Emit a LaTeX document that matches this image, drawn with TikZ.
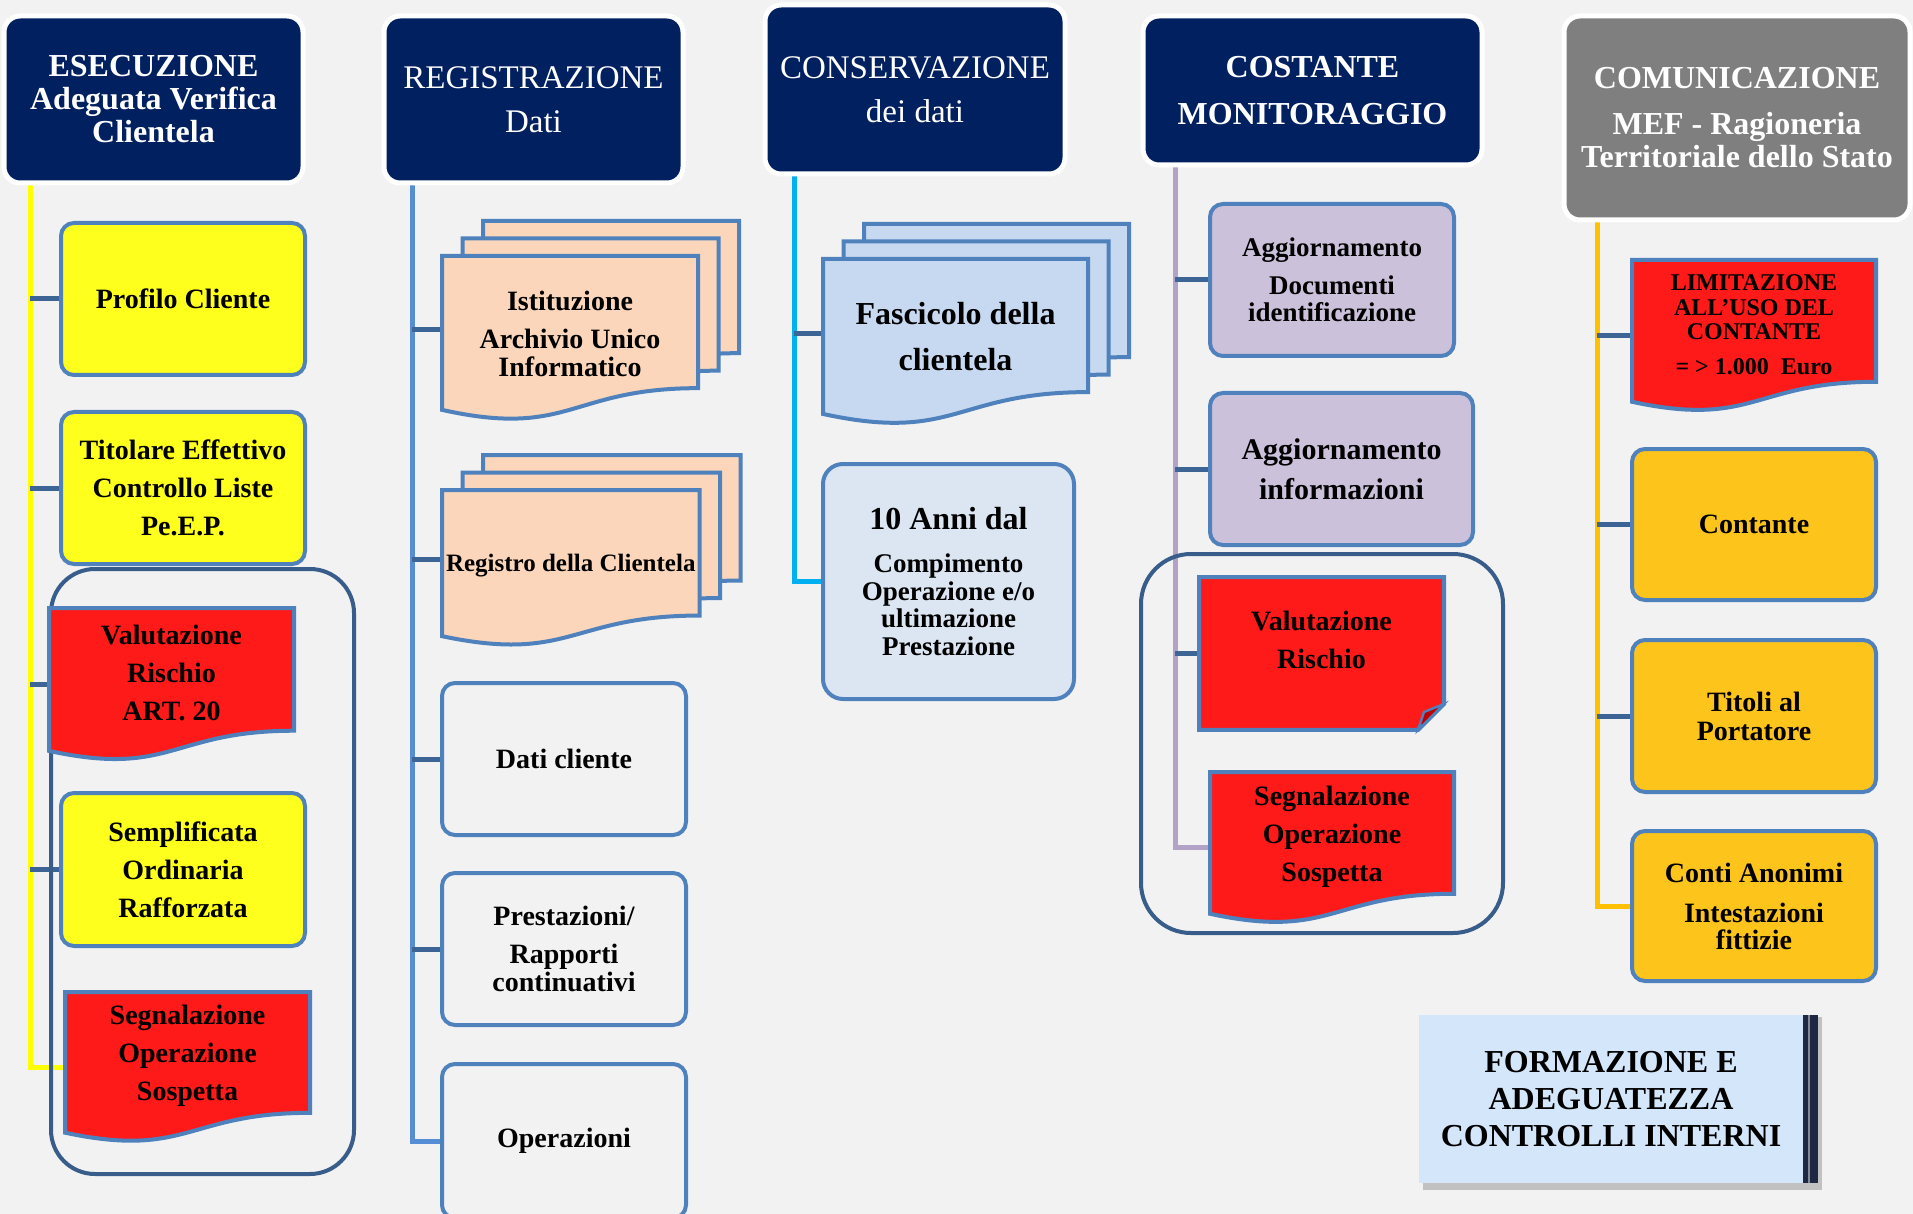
\documentclass[tikz,border=0pt]{standalone}
\usepackage{fontspec}
\setmainfont{Liberation Serif}
\usetikzlibrary{calc, positioning}

\definecolor{paper}{RGB}{242,242,242}
\definecolor{headnavy}{RGB}{0,32,96}
\definecolor{headgrey}{RGB}{127,127,127}
\definecolor{edgeblue}{RGB}{79,129,189}
\definecolor{branchblue}{RGB}{60,100,148}
\definecolor{groupblue}{RGB}{56,93,138}
\definecolor{cellyellow}{RGB}{255,255,30}
\definecolor{cellred}{RGB}{255,26,26}
\definecolor{foldred}{RGB}{192,0,0}
\definecolor{cellpeach}{RGB}{251,214,186}
\definecolor{cellsky}{RGB}{198,217,241}
\definecolor{cellpale}{RGB}{220,230,242}
\definecolor{celllilac}{RGB}{204,193,218}
\definecolor{cellgold}{RGB}{253,196,28}
\definecolor{trunkyellow}{RGB}{255,255,0}
\definecolor{trunkblue}{RGB}{85,142,213}
\definecolor{trunkcyan}{RGB}{0,176,240}
\definecolor{trunklilac}{RGB}{179,162,199}
\definecolor{trunkgold}{RGB}{255,192,0}
\definecolor{formsky}{RGB}{212,230,250}
\definecolor{formbar}{RGB}{30,40,66}

\newcommand{\headbf}{\fontsize{16}{16.5}\selectfont\bfseries}
\newcommand{\headrm}{\fontsize{16.5}{22}\selectfont}
\newcommand{\cellbf}{\fontsize{14}{19}\selectfont\bfseries}
\newcommand{\celltight}{\fontsize{14}{14}\selectfont\bfseries}
\newcommand{\padtop}{\rule{0pt}{18pt}}

\pgfdeclarelayer{back}
\pgfdeclarelayer{sheets}
\pgfsetlayers{back,sheets,main}

\tikzset{
    headbox/.style={
        rectangle,
        rounded corners=8pt,
        draw=white,
        line width=2.5pt,
        outer sep=0pt,
        fill=headnavy,
        text=white,
        anchor=north west,
        align=center
    },
    cellbox/.style={
        rectangle,
        rounded corners=6.5pt,
        draw=edgeblue,
        line width=2pt,
        outer sep=0pt,
        anchor=north west,
        minimum width=122pt,
        minimum height=76pt,
        inner sep=2pt,
        align=center,
        font=\cellbf
    },
    sheettext/.style={
        rectangle,
        anchor=north west,
        outer sep=0pt,
        minimum width=122pt,
        inner sep=2pt,
        align=center,
        font=\cellbf
    },
    sheetline/.style={draw=edgeblue, line width=2pt},
    groupframe/.style={draw=groupblue, line width=2pt, rounded corners=22pt},
    branch/.style={draw=branchblue, line width=2.5pt},
    trunk/.style={line width=2.5pt},
    formbox/.style={
        rectangle,
        fill=formsky,
        outer sep=0pt,
        anchor=north west,
        minimum width=192pt,
        minimum height=84pt,
        align=center,
        font=\fontsize{16}{18.5}\selectfont\bfseries
    }
}

% sheet with a wavy bottom, round a text node
\newcommand{\docsheet}[2]{%
    \path[sheetline, fill=#2] (#1.north west) -- (#1.north east)
        -- ($(#1.north east)!0.944!(#1.south east)$)
        .. controls ($(#1.north)!0.944!(#1.south)$) and ($(#1.north)!1.303!(#1.south)$)
        .. ($(#1.north west)!1.099!(#1.south west)$) -- cycle;
    \coordinate (#1 w) at ($(#1.north west)!0.588!(#1.south west)$);}
% three sheets stacked
\newcommand{\docstack}[2]{%
    \begin{scope}[transform canvas={shift={(41,-35)}}]\docsheet{#1}{#2}\end{scope}
    \begin{scope}[transform canvas={shift={(20.5,-17.5)}}]\docsheet{#1}{#2}\end{scope}
    \docsheet{#1}{#2}
    \coordinate (#1 w) at ($(#1 w)+(0,-8.75)$);}
% sheet with a folded corner, text kept in its upper part
\newcommand{\foldsheet}[2]{%
    \coordinate (#1 sw) at ($(#1.north west)!1.214!(#1.south west)$);
    \coordinate (#1 se) at ($(#1.north east)!1.214!(#1.south east)$);
    \path[sheetline, fill=#2] (#1.north west) -- (#1.north east)
        -- ([yshift=13pt]#1 se) -- ([xshift=-13pt]#1 se)
        -- (#1 sw) -- cycle;
    \path[sheetline, fill=foldred, line width=1.2pt] ([yshift=13pt]#1 se)
        -- ([xshift=-13pt]#1 se) -- ([xshift=-10pt,yshift=9pt]#1 se) -- cycle;
    \coordinate (#1 w) at ($(#1.north west)!0.607!(#1.south west)$);}

\begin{document}
\begin{tikzpicture}[x=0.5pt, y=-0.5pt]
    \useasboundingbox (0,0) rectangle (1913,1214);

    \node[headbox, minimum width=149.5pt, minimum height=83.5pt, font=\headbf] (esec) at (4,16) {ESECUZIONE\\Adeguata Verifica\\Clientela};
    \node[headbox, minimum width=149.5pt, minimum height=83.5pt, font=\headrm] (regis) at (384,16) {REGISTRAZIONE\\Dati};
    \node[headbox, minimum width=150pt, minimum height=84.5pt, font=\headrm] (conse) at (765,5) {CONSERVAZIONE\\dei dati};
    \node[headbox, minimum width=169.5pt, minimum height=74.5pt, font=\fontsize{16}{23.5}\selectfont\bfseries] (monit) at (1143,16) {COSTANTE\\MONITORAGGIO};
    \node[headbox, fill=headgrey, minimum width=173pt, minimum height=102pt, font=\headbf] (comun) at (1564,16) {COMUNICAZIONE\\[6.5pt]MEF - Ragioneria\\Territoriale dello Stato};

    % esecuzione
    \node[cellbox, fill=cellyellow] (profilo) at (61,223) {Profilo Cliente};
    \node[cellbox, fill=cellyellow, below=18.5pt of profilo] (titolare) {Titolare Effettivo\\Controllo Liste\\Pe.E.P.};
    \node[sheettext, minimum width=122.5pt, minimum height=65pt] (valut1) at (49,608) {Valutazione\\Rischio\\ART. 20};
    \node[cellbox, fill=cellyellow, minimum height=76.5pt] (sempl) at (61,793) {Semplificata\\Ordinaria\\Rafforzata};
    \node[sheettext, minimum width=122.5pt, minimum height=64pt] (segn1) at (65,992) {Segnalazione\\Operazione\\Sospetta};

    % registrazione
    \node[sheettext, minimum width=128pt, minimum height=70pt, font=\celltight] (istit) at (442,256) {\padtop Istituzione\\[5pt]Archivio Unico\\Informatico};
    \node[sheettext, minimum width=128.5pt, minimum height=66.5pt, font=\fontsize{12.5}{14}\selectfont\bfseries] (registro) at (442,490) {\padtop Registro della Clientela};
    \node[cellbox, fill=paper] (dati) at (442,683) {Dati cliente};
    \node[cellbox, fill=paper, below=19pt of dati, font=\celltight] (prestaz) {Prestazioni/\\[5pt]Rapporti\\continuativi};
    \node[cellbox, fill=paper, minimum height=77pt, below=19.5pt of prestaz] (operaz) {Operazioni};

    % conservazione
    \node[sheettext, minimum width=132.5pt, minimum height=70.5pt, font=\fontsize{16}{23}\selectfont\bfseries] (fasc) at (823,259) {\padtop Fascicolo della\\clientela};
    \node[cellbox, fill=cellpale, rounded corners=10pt, minimum width=125.5pt, minimum height=117.5pt, font=\fontsize{13.5}{13.75}\selectfont\bfseries] (anni) at (823,464) {{\fontsize{16}{16}\selectfont 10 Anni dal}\\[8pt]Compimento\\Operazione e/o\\ultimazione\\Prestazione};

    % monitoraggio
    \node[cellbox, fill=celllilac, font=\fontsize{13.5}{13.5}\selectfont\bfseries] (agg1) at (1210,204) {Aggiornamento\\[5.5pt]Documenti\\identificazione};
    \node[cellbox, fill=celllilac, minimum width=131.5pt, font=\fontsize{15}{20}\selectfont\bfseries] (agg2) at (1210,393) {Aggiornamento\\informazioni};
    \node[sheettext, minimum width=122.5pt, minimum height=63pt] (valut4) at (1199,577) {Valutazione\\Rischio};
    \node[sheettext, minimum height=64.5pt] (segn4) at (1210,772) {Segnalazione\\Operazione\\Sospetta};

    % comunicazione
    \node[sheettext, minimum height=64.5pt, font=\fontsize{12}{12.25}\selectfont\bfseries] (limit) at (1632,260) {LIMITAZIONE\\ALL’USO DEL\\CONTANTE\\[5pt]= > 1.000\ \ Euro};
    \node[cellbox, fill=cellgold, minimum height=75.5pt] (contante) at (1632,449) {Contante};
    \node[cellbox, fill=cellgold, below=20pt of contante, font=\fontsize{14}{14.5}\selectfont\bfseries] (titoli) {Titoli al\\Portatore};
    \node[cellbox, fill=cellgold, minimum height=75pt, below=19.5pt of titoli, font=\fontsize{14}{13.5}\selectfont\bfseries] (conti) {Conti Anonimi\\[6.5pt]Intestazioni\\fittizie};

    \node[formbox] (formaz) at (1419,1015) {FORMAZIONE E\\ADEGUATEZZA\\CONTROLLI INTERNI};
    \fill[formbar] (formaz.north east) rectangle ([xshift=7.5pt]formaz.south east);
    \draw[white!45!formbar, line width=1pt] ([xshift=3pt]formaz.north east) -- ([xshift=3pt]formaz.south east);

    \begin{pgfonlayer}{sheets}
        \docsheet{valut1}{cellred}
        \docsheet{segn1}{cellred}
        \docstack{istit}{cellpeach}
        \docstack{registro}{cellpeach}
        \docstack{fasc}{cellsky}
        \foldsheet{valut4}{cellred}
        \docsheet{segn4}{cellred}
        \docsheet{limit}{cellred}
        \fill[black, opacity=0.2] ([xshift=2pt,yshift=-3.5pt]formaz.south west) rectangle ([xshift=9.5pt,yshift=-1pt]formaz.north east);
    \end{pgfonlayer}

    \begin{pgfonlayer}{back}
        \fill[paper] (0,0) rectangle (1913,1214);
        \coordinate (t1) at (30,0);
        \coordinate (t2) at (412,0);
        \coordinate (t3) at (794,0);
        \coordinate (t4) at (1175,0);
        \coordinate (t5) at (1597,0);

        \draw[trunk, trunkyellow] (t1 |- esec.south) |- (segn1 w);
        \draw[trunk, trunkblue] (t2 |- regis.south) |- (operaz.west);
        \draw[trunk, trunkcyan] (t3 |- conse.south) |- (anni.west);
        \draw[trunk, trunklilac] (t4 |- monit.south) |- (segn4 w);
        \draw[trunk, trunkgold] (t5 |- comun.south) |- (conti.west);

        \foreach \n in {profilo, titolare, sempl}
            \draw[branch] (t1 |- \n.west) -- (\n.west);
        \draw[branch] (t1 |- valut1 w) -- (valut1 w);
        \draw[branch] (t2 |- istit w) -- (istit w);
        \draw[branch] (t2 |- registro w) -- (registro w);
        \foreach \n in {dati, prestaz}
            \draw[branch] (t2 |- \n.west) -- (\n.west);
        \draw[branch] (t3 |- fasc w) -- (fasc w);
        \foreach \n in {agg1, agg2}
            \draw[branch] (t4 |- \n.west) -- (\n.west);
        \draw[branch] (t4 |- valut4 w) -- (valut4 w);
        \draw[branch] (t5 |- limit w) -- (limit w);
        \foreach \n in {contante, titoli}
            \draw[branch] (t5 |- \n.west) -- (\n.west);

        \draw[groupframe] (51,569) rectangle (354,1174);
        \draw[groupframe, rounded corners=25pt] (1141,554) rectangle (1503,933);
    \end{pgfonlayer}
\end{tikzpicture}
\end{document}
